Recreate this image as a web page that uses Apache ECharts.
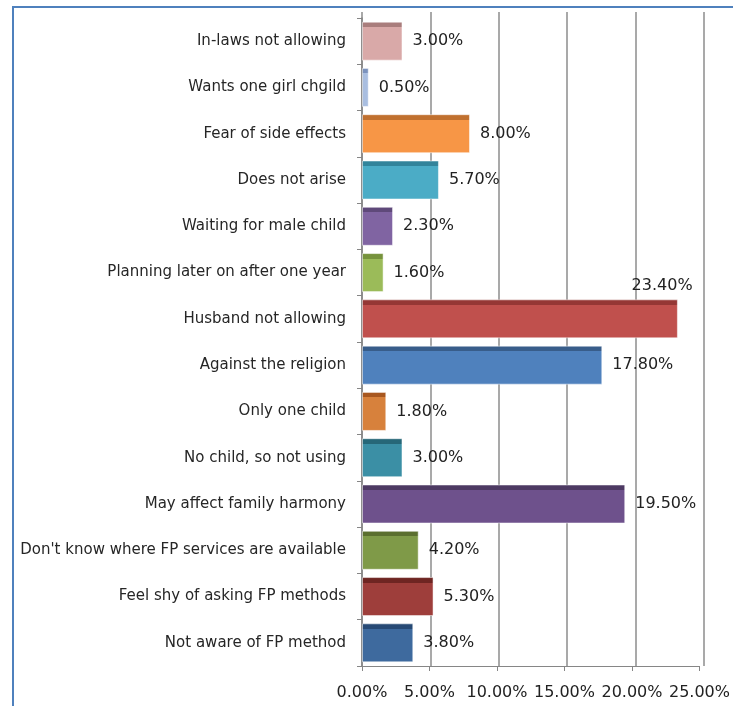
<!DOCTYPE html>
<html>
<head>
<meta charset="utf-8">
<script src="https://cdn.jsdelivr.net/npm/echarts@6/dist/echarts.min.js"></script>
<style>
html,body{margin:0;padding:0;background:#fff;}
#frame{position:absolute;left:12px;top:6px;width:740px;height:720px;border:2px solid #4F81BD;box-sizing:border-box;}
#c{position:absolute;left:0;top:0;width:733px;height:706px;}
</style>
</head>
<body>
<div id="frame"></div>
<div id="c"></div>
<script>
const categories = [
  "In-laws not allowing",
  "Wants one girl chgild",
  "Fear of side effects",
  "Does not arise",
  "Waiting for male child",
  "Planning later on after one year",
  "Husband not allowing",
  "Against the religion",
  "Only one child",
  "No child, so not using",
  "May affect family harmony",
  "Don't know where FP services are available",
  "Feel shy of asking FP methods",
  "Not aware of FP method"
];
const values = [3.0, 0.5, 8.0, 5.7, 2.3, 1.6, 23.4, 17.8, 1.8, 3.0, 19.5, 4.2, 5.3, 3.8];
const xTicks = [0, 5, 10, 15, 20, 25];

const fillColors = ["#D9A9A8","#A9BEE0","#F79646","#4BACC6","#8064A2","#9BBB59","#C0504D","#4F81BD","#D7813C","#3B8FA5","#6E518C","#7F9A48","#9E3E3B","#3E6A9E"];
const topColors  = ["#A97D7C","#7B92BD","#C0702F","#32849B","#5F497A","#76923C","#953735","#385D8A","#A8571F","#266778","#4D3A63","#5B6F2F","#6E2522","#274A75"];

const font = "'DejaVu Sans', sans-serif";

const data = values.map((v, i) => {
  const item = {
    value: v,
    itemStyle: {
      color: {
        type: 'linear', x: 0, y: 0, x2: 0, y2: 1,
        colorStops: [
          {offset: 0, color: topColors[i]},
          {offset: 0.14, color: topColors[i]},
          {offset: 0.14, color: fillColors[i]},
          {offset: 1, color: fillColors[i]}
        ]
      },
      borderColor: 'rgba(255,255,255,0.5)',
      borderWidth: 1
    }
  };
  if (v > 22) {
    item.label = { position: ['95%', -22], align: 'center' };
  }
  return item;
});

const xMin = xTicks[0], xMax = xTicks[xTicks.length - 1], xStep = xTicks[1] - xTicks[0];

const chart = echarts.init(document.getElementById('c'));
chart.setOption({
  animation: false,
  backgroundColor: 'transparent',
  grid: [
    { left: 362, right: 29, top: 18, bottom: 40, containLabel: false },
    { left: 362, right: 29, top: 12, bottom: 40, containLabel: false }
  ],
  xAxis: [{
    type: 'value', gridIndex: 0,
    min: xMin, max: xMax, interval: xStep,
    axisLine: { show: true, lineStyle: { color: '#868686', width: 1 } },
    axisTick: { show: true, length: 5, lineStyle: { color: '#868686' } },
    splitLine: { show: false },
    axisLabel: {
      formatter: v => v.toFixed(2) + '%',
      color: '#222', fontFamily: font, fontSize: 16, margin: 19
    }
  }, {
    type: 'value', gridIndex: 1,
    min: xMin, max: xMax, interval: xStep,
    axisLine: { show: false }, axisTick: { show: false }, axisLabel: { show: false },
    splitLine: { show: true, lineStyle: { color: '#8C8C8C', width: 1.5 } }
  }],
  yAxis: [{
    type: 'category', gridIndex: 0,
    data: categories,
    inverse: true,
    axisLine: { show: true, lineStyle: { color: '#868686', width: 1.5 } },
    axisTick: { show: true, length: 5, lineStyle: { color: '#868686' } },
    axisLabel: { color: '#262626', fontFamily: font, fontSize: 15, margin: 16 }
  }, {
    type: 'category', gridIndex: 1, data: categories, show: false
  }],
  series: [{
    type: 'bar',
    xAxisIndex: 0, yAxisIndex: 0,
    data: data,
    barWidth: 39,
    z: 3,
    label: {
      show: true,
      position: 'right',
      distance: 10,
      formatter: p => p.value.toFixed(2) + '%',
      color: '#222', fontFamily: font, fontSize: 16
    }
  }]
});
</script>
</body>
</html>
